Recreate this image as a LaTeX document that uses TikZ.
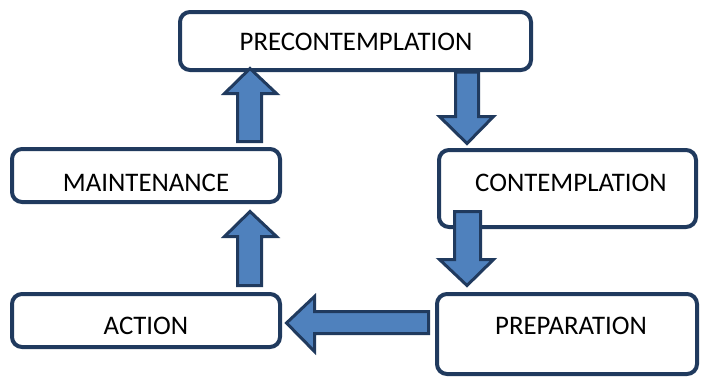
\documentclass[tikz,border=0pt]{standalone}
\usepackage{fontspec}
\setmainfont{Carlito}
\definecolor{boxline}{HTML}{203A5E}
\definecolor{arrowfill}{HTML}{4F81BD}
\begin{document}
\begin{tikzpicture}[x=1pt,y=-1pt,
  stagebox/.style={draw=boxline,line width=4pt,rounded corners=10pt,fill=white},
  stagelabel/.style={font=\fontsize{26.8}{30}\selectfont,inner sep=0pt,anchor=center},
  blockarrow/.style={draw=boxline,line width=3pt,fill=arrowfill,line join=miter}]
\useasboundingbox (0,0) rectangle (701,378);
\fill[white] (0,0) rectangle (701,378);
% boxes
\draw[stagebox] (180,12) rectangle (531,70);
\draw[stagebox] (439,150) rectangle (696,227);
\draw[stagebox] (437,294) rectangle (697,374);
\draw[stagebox] (12,149) rectangle (280,202);
\draw[stagebox] (12,294) rectangle (280,347);
% labels
\node[stagelabel] (pre) at (356,42) {PRECONTEMPLATION};
\node[stagelabel] (con) at (571,183) {CONTEMPLATION};
\node[stagelabel] (prep) at (571,326) {PREPARATION};
\node[stagelabel] (main) at (146,183) {MAINTENANCE};
\node[stagelabel] (act) at (146,326) {ACTION};
% arrows
% pre -> con
\draw[blockarrow] (455.5,72) -- (478.5,72) -- (478.5,116.5) -- (493.5,116.5) -- (467,143.5) -- (439.5,116.5) -- (455.5,116.5) -- cycle;
% con -> prep
\draw[blockarrow] (454.5,211.5) -- (480.5,211.5) -- (480.5,259.5) -- (493.5,259.5) -- (467,285.5) -- (439.5,259.5) -- (454.5,259.5) -- cycle;
% prep -> act
\draw[blockarrow] (428.5,311.5) -- (428.5,333.5) -- (314.5,333.5) -- (314.5,351.5) -- (286.5,323) -- (314.5,296.5) -- (314.5,311.5) -- cycle;
% act -> main
\draw[blockarrow] (237.5,285.5) -- (261.5,285.5) -- (261.5,236.5) -- (276.5,236.5) -- (250,211.5) -- (224.5,236.5) -- (237.5,236.5) -- cycle;
% main -> pre
\draw[blockarrow] (237.5,141.5) -- (261.5,141.5) -- (261.5,93.5) -- (276.5,93.5) -- (250,68.5) -- (224.5,93.5) -- (237.5,93.5) -- cycle;
\end{tikzpicture}
\end{document}
